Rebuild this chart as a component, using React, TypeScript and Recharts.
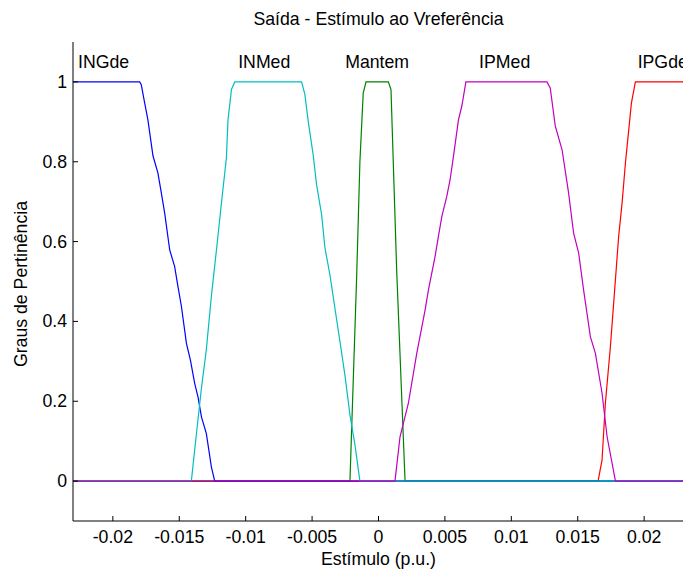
import React from 'react';
import { ComposedChart, Line, Scatter, XAxis, YAxis } from 'recharts';

// membership functions
const ingdeX = [-0.023, -0.01798, -0.01786, -0.01761, -0.01736, -0.01698, -0.01661, -0.01635, -0.0161, -0.01572, -0.01535, -0.0151, -0.01484, -0.01446, -0.01416, -0.01384, -0.01359, -0.01333, -0.01296, -0.01258, -0.01233, 0.023];
const ingdeY = [1, 1, 0.993, 0.948, 0.905, 0.815, 0.772, 0.722, 0.672, 0.579, 0.538, 0.488, 0.438, 0.345, 0.303, 0.245, 0.211, 0.161, 0.119, 0.035, 0, 0];

const inmedX = [-0.023, -0.01409, -0.01371, -0.01333, -0.01296, -0.01258, -0.0122, -0.01183, -0.01145, -0.01133, -0.01107, -0.01082, -0.00579, -0.00554, -0.00529, -0.00492, -0.00466, -0.00428, -0.00403, -0.00366, -0.00328, -0.0029, -0.00253, -0.00215, -0.00177, -0.0014, 0.023];
const inmedY = [0, 0, 0.118, 0.233, 0.33, 0.464, 0.579, 0.695, 0.81, 0.905, 0.981, 1, 1, 0.968, 0.901, 0.818, 0.742, 0.667, 0.584, 0.517, 0.433, 0.349, 0.266, 0.166, 0.09, 0, 0];

const mantemX = [-0.023, -0.00215, -0.00164, -0.0014, -0.00115, -0.00094, 0.00074, 0.00094, 0.00137, 0.002, 0.023];
const mantemY = [0, 0, 0.517, 0.8, 0.972, 1, 1, 0.981, 0.527, 0, 0];

const ipmedX = [-0.023, 0.00124, 0.00162, 0.00225, 0.00288, 0.00351, 0.00376, 0.00426, 0.00451, 0.00477, 0.00514, 0.00539, 0.00564, 0.00602, 0.00627, 0.00658, 0.01268, 0.01293, 0.01331, 0.01382, 0.01431, 0.01469, 0.01507, 0.01544, 0.01595, 0.01633, 0.01683, 0.01721, 0.01784, 0.023];
const ipmedY = [0, 0, 0.111, 0.195, 0.32, 0.429, 0.479, 0.563, 0.613, 0.663, 0.713, 0.755, 0.813, 0.905, 0.939, 1, 1, 0.985, 0.889, 0.83, 0.722, 0.621, 0.571, 0.479, 0.362, 0.32, 0.22, 0.111, 0, 0];

const ipgdeX = [-0.023, 0.01653, 0.01683, 0.01708, 0.01746, 0.01778, 0.01808, 0.01834, 0.01859, 0.01884, 0.01904, 0.01934, 0.023];
const ipgdeY = [0, 0, 0.053, 0.195, 0.337, 0.479, 0.613, 0.697, 0.797, 0.88, 0.947, 1, 1];

const mfNames = ['INGde', 'INMed', 'Mantem', 'IPMed', 'IPGde'];
const mfLabelX = [-0.0207, -0.0086, -0.0001, 0.0095, 0.0214];
const mfLabelY = 1.05;

const xTicks = [-0.02, -0.015, -0.01, -0.005, 0, 0.005, 0.01, 0.015, 0.02];
const yTicks = [0, 0.2, 0.4, 0.6, 0.8, 1];

const FONT = '"Liberation Sans", Arial, sans-serif';
const FS = 17.7;

const toPoints = (xs: number[], ys: number[]) => xs.map((x, i) => ({ x, y: ys[i] }));
const labelData = mfNames.map((name, i) => ({ x: mfLabelX[i], y: mfLabelY, name }));

// ticks point inward, matlab style
const BottomTick = (props: any) => {
  const { x, y, payload } = props;
  return (
    <g>
      <line x1={x} y1={y} x2={x} y2={y - 5} stroke="#000" />
      <text x={x} y={y + 22} textAnchor="middle" fontFamily={FONT} fontSize={FS} fill="#000">
        {String(payload.value)}
      </text>
    </g>
  );
};

const TopTick = (props: any) => {
  const { x, y } = props;
  return <line x1={x} y1={y} x2={x} y2={y + 5} stroke="#000" />;
};

const LeftTick = (props: any) => {
  const { x, y, payload } = props;
  return (
    <g>
      <line x1={x} y1={y} x2={x + 5} y2={y} stroke="#000" />
      <text x={x - 6} y={y + 6} textAnchor="end" fontFamily={FONT} fontSize={FS} fill="#000">
        {String(payload.value)}
      </text>
    </g>
  );
};

const RightTick = (props: any) => {
  const { x, y } = props;
  return <line x1={x} y1={y} x2={x - 5} y2={y} stroke="#000" />;
};

const MfLabel = (props: any) => {
  const { cx, cy, payload } = props;
  return (
    <text x={cx} y={cy + 6} textAnchor="middle" fontFamily={FONT} fontSize={FS} fill="#000">
      {payload.name}
    </text>
  );
};

const series = [
  { name: 'IPGde', data: toPoints(ipgdeX, ipgdeY), color: '#ff0000' },
  { name: 'Mantem', data: toPoints(mantemX, mantemY), color: '#008000' },
  { name: 'INGde', data: toPoints(ingdeX, ingdeY), color: '#0000ff' },
  { name: 'INMed', data: toPoints(inmedX, inmedY), color: '#00bfbf' },
  { name: 'IPMed', data: toPoints(ipmedX, ipmedY), color: '#bf00bf' },
];

export default function App() {
  return (
    <div
      style={{
        position: 'fixed',
        left: 0,
        top: 0,
        width: 683,
        height: 569,
        overflow: 'hidden',
        background: '#fff',
        fontFamily: FONT,
        fontSize: FS,
        color: '#000',
      }}
    >
      <ComposedChart width={700} height={569} margin={{ top: 42, right: 16, bottom: 0, left: 0 }}>
        <XAxis
          dataKey="x"
          type="number"
          domain={[-0.023, 0.023]}
          ticks={xTicks}
          interval={0}
          allowDataOverflow
          height={48}
          tickSize={0}
          tickMargin={0}
          tick={BottomTick}
          axisLine={{ stroke: '#000' }}
        />
        <XAxis
          xAxisId="top"
          orientation="top"
          type="number"
          domain={[-0.023, 0.023]}
          ticks={xTicks}
          interval={0}
          allowDataOverflow
          height={0}
          tickSize={0}
          tickMargin={0}
          tick={TopTick}
          axisLine={{ stroke: '#000' }}
        />
        <YAxis
          type="number"
          domain={[-0.1, 1.1]}
          ticks={yTicks}
          interval={0}
          allowDataOverflow
          width={73}
          tickSize={0}
          tickMargin={0}
          tick={LeftTick}
          axisLine={{ stroke: '#000' }}
        />
        <YAxis
          yAxisId="right"
          orientation="right"
          type="number"
          domain={[-0.1, 1.1]}
          ticks={yTicks}
          interval={0}
          allowDataOverflow
          width={0}
          tickSize={0}
          tickMargin={0}
          tick={RightTick}
          axisLine={{ stroke: '#000' }}
        />
        {series.map((s) => (
          <Line
            key={s.name}
            data={s.data}
            dataKey="y"
            name={s.name}
            type="linear"
            stroke={s.color}
            strokeWidth={1.2}
            dot={false}
            activeDot={false}
            isAnimationActive={false}
          />
        ))}
        <Scatter data={labelData} dataKey="y" shape={MfLabel} isAnimationActive={false} />
      </ComposedChart>
      <div style={{ position: 'absolute', left: 0, width: 757, top: 9, lineHeight: '20px', textAlign: 'center', whiteSpace: 'nowrap' }}>
        Saída - Estímulo ao Vreferência
      </div>
      <div style={{ position: 'absolute', left: 0, width: 757, top: 549, lineHeight: '20px', textAlign: 'center', whiteSpace: 'nowrap' }}>
        Estímulo (p.u.)
      </div>
      <div
        style={{
          position: 'absolute',
          left: 21,
          top: 284,
          transform: 'translate(-50%, -50%) rotate(-90deg)',
          whiteSpace: 'nowrap',
          lineHeight: '20px',
        }}
      >
        Graus de Pertinência
      </div>
    </div>
  );
}
